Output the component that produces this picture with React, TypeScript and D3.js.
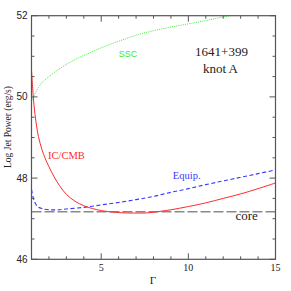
import { useEffect, useRef } from "react";
import * as d3 from "d3";

// Γ on x, log jet power on y
const ssc: [number, number][] = [
  [1, 49.88], [1.1, 49.99], [1.25, 50.12], [1.4, 50.23], [1.6, 50.35], [2, 50.5],
  [2.5, 50.66], [3, 50.8], [3.5, 50.92], [4, 51.02], [4.6, 51.14], [5.3, 51.26],
  [6, 51.37], [7, 51.52], [8, 51.63], [9, 51.72], [10, 51.8], [11, 51.88],
  [12, 51.97], [13, 52.05],
];
const icCmb: [number, number][] = [
  [1, 50.66], [1.1, 50.02], [1.2, 49.57], [1.3, 49.26], [1.4, 49.02], [1.6, 48.7],
  [1.8, 48.47], [2, 48.28], [2.3, 48.03], [2.6, 47.82], [3, 47.6], [3.5, 47.43],
  [4, 47.32], [4.5, 47.25], [5, 47.2], [5.5, 47.17], [6, 47.15], [6.5, 47.14],
  [7, 47.14], [7.5, 47.14], [8, 47.16], [9, 47.22], [10, 47.3], [11, 47.39],
  [12, 47.5], [13, 47.61], [14, 47.74], [15, 47.88],
];
const equip: [number, number][] = [
  [1, 47.72], [1.08, 47.55], [1.18, 47.41], [1.35, 47.3], [1.6, 47.25], [2, 47.22],
  [2.5, 47.22], [3, 47.24], [4, 47.28], [5, 47.34], [6, 47.4], [7, 47.47],
  [8, 47.55], [9, 47.65], [10, 47.74], [11, 47.84], [12, 47.93], [13, 48.02],
  [14, 48.11], [15, 48.2],
];
const coreLevel = 47.17;

const xMajor = [5, 10, 15];
const xMinor = d3.range(1, 16);
const yMajor = [46, 48, 50, 52];
const yMinor = d3.range(46, 52.01, 0.5);

export default function App() {
  const ref = useRef<SVGSVGElement>(null);

  useEffect(() => {
    const left = 31.5, right = 275.5, top = 15.7, bottom = 259.3;

    const svg = d3.select(ref.current);
    svg.selectAll("*").remove();

    const x = d3.scaleLinear().domain([1, 15]).range([left, right]);
    const y = d3.scaleLinear().domain([46, 52]).range([bottom, top]);

    svg.append("clipPath").attr("id", "plot")
      .append("rect")
        .attr("x", left).attr("y", top)
        .attr("width", right - left).attr("height", bottom - top);

    const line = d3.line<[number, number]>()
      .x(d => x(d[0]))
      .y(d => y(d[1]))
      .curve(d3.curveCatmullRom.alpha(0.5));

    const g = svg.append("g").attr("clip-path", "url(#plot)");

    // core level
    g.append("line")
      .attr("x1", x(1)).attr("x2", x(15))
      .attr("y1", y(coreLevel)).attr("y2", y(coreLevel))
      .attr("stroke", "#8a8a8a")
      .attr("stroke-width", 1.6)
      .attr("stroke-dasharray", "10,3");

    g.append("path").datum(ssc)
      .attr("d", line)
      .attr("fill", "none")
      .attr("stroke", "#33ee33")
      .attr("stroke-width", 1)
      .attr("stroke-dasharray", "1,1.2");

    g.append("path").datum(equip)
      .attr("d", line)
      .attr("fill", "none")
      .attr("stroke", "#3838ff")
      .attr("stroke-width", 1.1)
      .attr("stroke-dasharray", "4,2.5");

    g.append("path").datum(icCmb)
      .attr("d", line)
      .attr("fill", "none")
      .attr("stroke", "#ff2a2a")
      .attr("stroke-width", 1);

    // frame + ticks on all sides
    const axisColor = "#555";
    svg.append("rect")
      .attr("x", left).attr("y", top)
      .attr("width", right - left).attr("height", bottom - top)
      .attr("fill", "none")
      .attr("stroke", axisColor)
      .attr("stroke-width", 1.2);

    const ticks = svg.append("g").attr("stroke", axisColor).attr("stroke-width", 1);
    xMinor.forEach(v => {
      const len = xMajor.includes(v) ? 6 : 3;
      ticks.append("line").attr("x1", x(v)).attr("x2", x(v)).attr("y1", bottom).attr("y2", bottom - len);
      ticks.append("line").attr("x1", x(v)).attr("x2", x(v)).attr("y1", top).attr("y2", top + len);
    });
    yMinor.forEach(v => {
      const len = yMajor.includes(v) ? 6 : 3;
      ticks.append("line").attr("y1", y(v)).attr("y2", y(v)).attr("x1", left).attr("x2", left + len);
      ticks.append("line").attr("y1", y(v)).attr("y2", y(v)).attr("x1", right).attr("x2", right - len);
    });

    const sans = "'Liberation Sans', Arial, sans-serif";
    const serif = "'Liberation Serif', 'Times New Roman', serif";

    svg.append("g")
        .attr("font-family", sans).attr("font-size", 10).attr("fill", "#222")
        .attr("text-anchor", "end")
      .selectAll("text").data(yMajor).join("text")
        .attr("x", left - 4).attr("y", d => y(d)).attr("dy", "0.35em")
        .text(d => d);

    svg.append("g")
        .attr("font-family", serif).attr("font-size", 10).attr("fill", "#222")
        .attr("text-anchor", "middle")
      .selectAll("text").data(xMajor).join("text")
        .attr("x", d => x(d)).attr("y", 271)
        .text(d => d);

    svg.append("text")
      .attr("x", 153).attr("y", 284)
      .attr("text-anchor", "middle")
      .attr("font-family", serif).attr("font-size", 11).attr("fill", "#222")
      .text("Γ");

    svg.append("text")
      .attr("transform", `translate(10.5,127) rotate(-90)`)
      .attr("text-anchor", "middle")
      .attr("font-family", serif).attr("font-size", 9.5).attr("fill", "#222")
      .text("Log Jet Power (erg/s)");

    const label = (t: string, lx: number, ly: number, color: string, size: number, font: string) =>
      svg.append("text")
        .attr("x", lx).attr("y", ly)
        .attr("text-anchor", "middle")
        .attr("font-family", font).attr("font-size", size)
        .attr("fill", color)
        .text(t);

    label("SSC", 128, 57, "#33ee33", 9, sans);
    label("IC/CMB", 66.5, 158.5, "#ff2a2a", 10.5, serif);
    label("Equip.", 186.7, 178.5, "#3838ff", 10.5, serif);
    label("core", 246.7, 220, "#222", 13, serif);
    label("1641+399", 221.5, 56, "#222", 13, serif);
    label("knot A", 220.5, 73, "#222", 13, serif);
  }, []);

  return (
    <svg ref={ref} width={291} height={291}
      style={{ position: "absolute", left: 0, top: 0, background: "#fff" }} />
  );
}
